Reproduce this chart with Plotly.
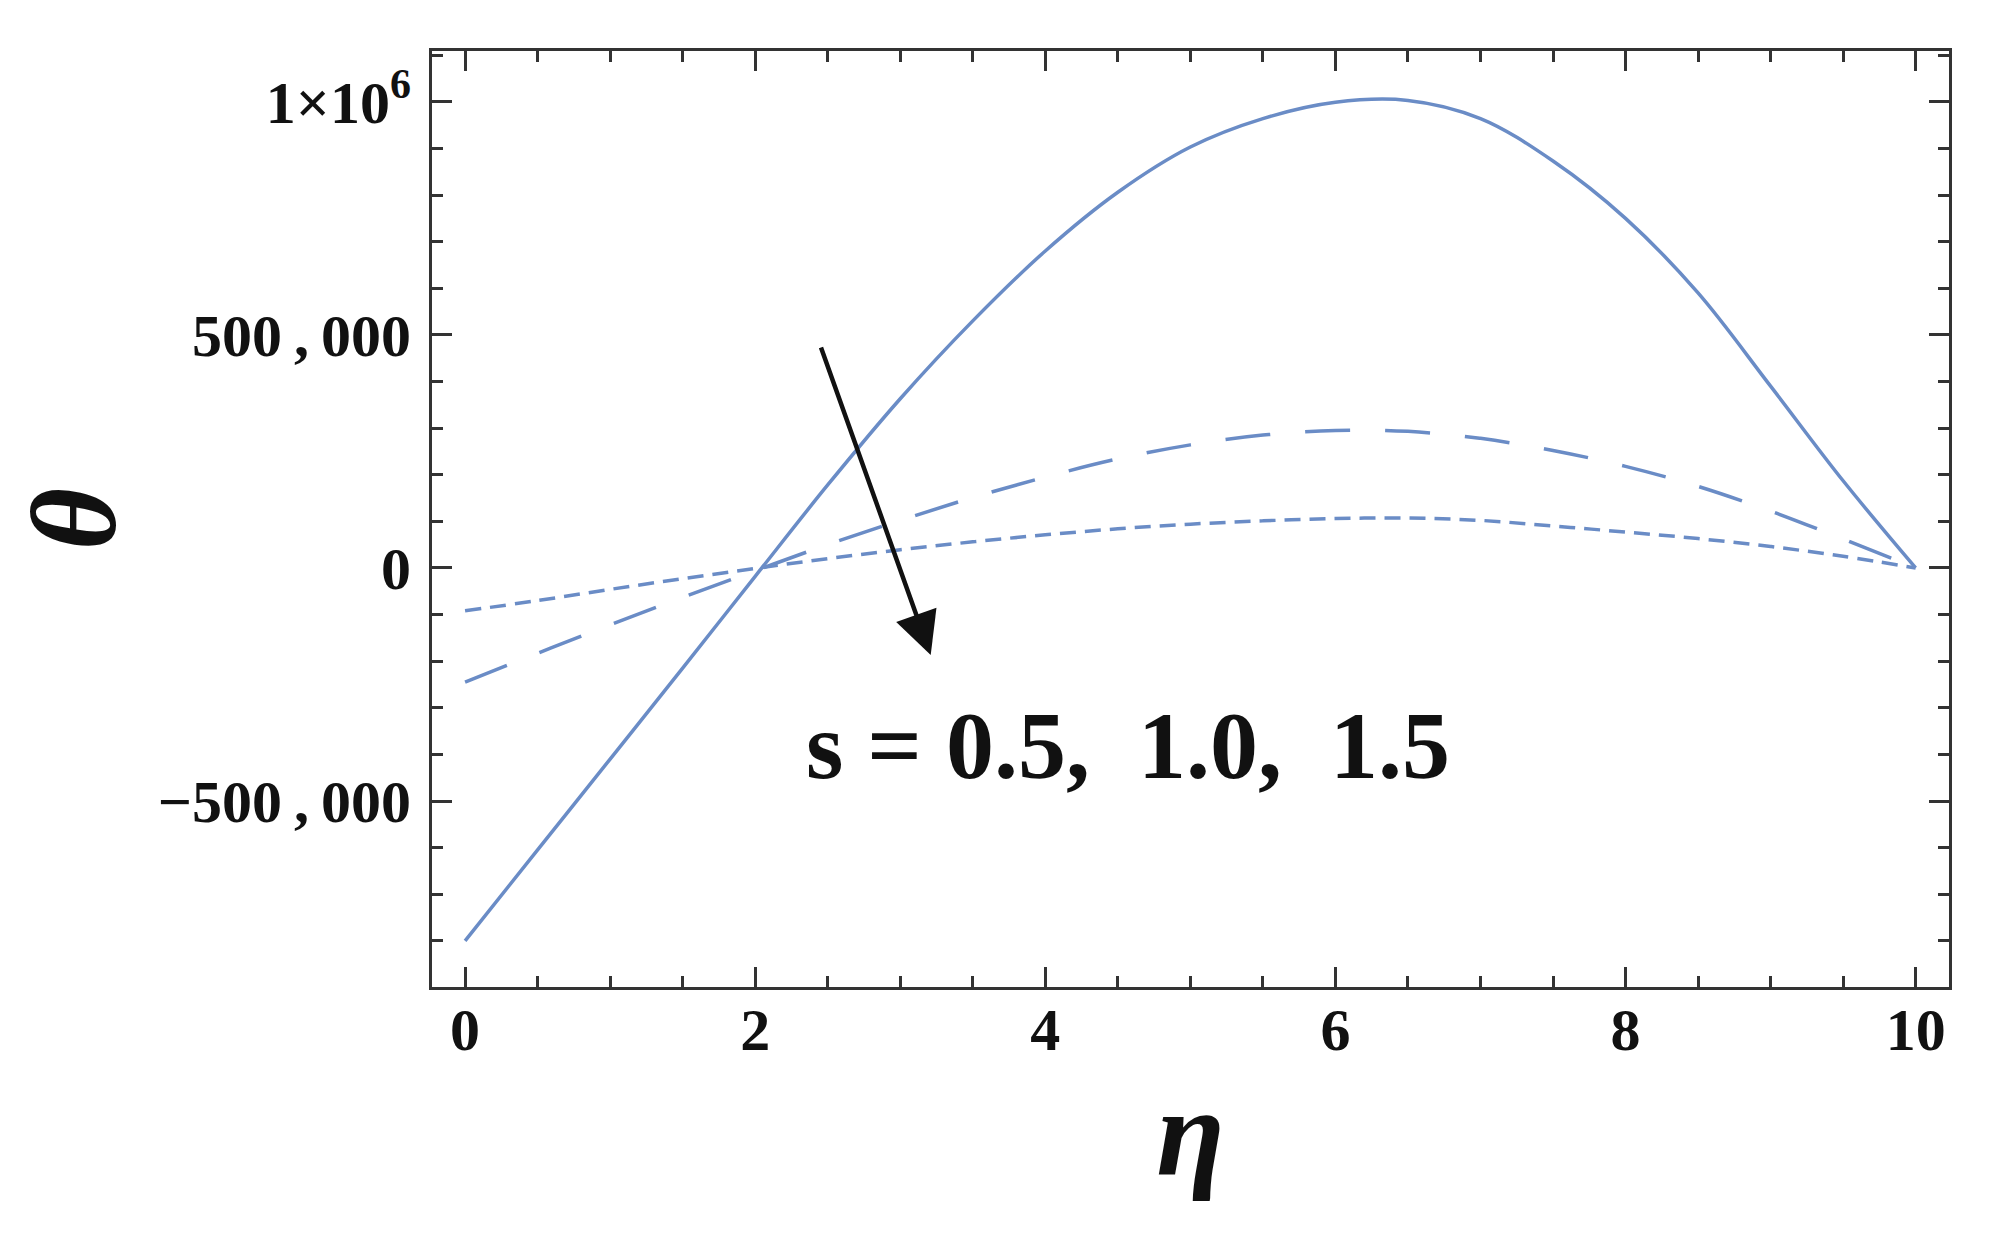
import plotly.graph_objects as go

# eta values and the three theta profiles
eta = [0, 0.5, 1, 1.5, 2, 2.5, 3, 3.5, 4, 4.5, 5, 5.5, 6, 6.5, 7, 7.5, 8, 8.5, 9, 9.5, 10]
theta_s05 = [-800000, -605000, -410000, -215000, -18000, 178000, 363000, 530000, 680000, 806000,
             903000, 964000, 999000, 1003000, 964000, 873000, 750000, 590000, 390000, 187000, 0]
theta_s10 = [-245000, -183000, -122000, -63000, -6000, 50000, 102000, 151000, 195000, 234000,
             264000, 285000, 295000, 293000, 278000, 252000, 218000, 175000, 122000, 62000, 0]
theta_s15 = [-92000, -70000, -46000, -23000, -1000, 20000, 39000, 56000, 71000, 84000,
             94000, 101000, 106000, 107000, 102000, 90000, 77000, 63000, 46000, 25000, 0]

x_ticks = [0, 2, 4, 6, 8, 10]
y_ticks = [-500000, 0, 500000, 1000000]
y_tick_text = ["\u2212500\u2009,\u2009000", "0", "500\u2009,\u2009000", "1\u00d710<sup>6</sup>"]

line_color = "#6a8cc6"
frame_color = "#333333"
font_family = "Liberation Serif, Times New Roman, serif"

fig = go.Figure()
fig.add_trace(go.Scatter(x=eta, y=theta_s05, mode="lines", line_shape="spline",
                         line=dict(color=line_color, width=3.5)))
fig.add_trace(go.Scatter(x=eta, y=theta_s10, mode="lines", line_shape="spline",
                         line=dict(color=line_color, width=3.5, dash="45px,35px")))
fig.add_trace(go.Scatter(x=eta, y=theta_s15, mode="lines", line_shape="spline",
                         line=dict(color=line_color, width=3.5, dash="16px,9px")))

# arrow showing the direction of increasing s
fig.add_annotation(x=3.21, y=-187000, ax=2.45, ay=476000, xref="x", yref="y",
                   axref="x", ayref="y", text="", showarrow=True,
                   arrowhead=2, arrowsize=1.9, arrowwidth=4.5, arrowcolor="#111111")
fig.add_annotation(x=4.57, y=-380000, xref="x", yref="y", showarrow=False,
                   text="s\u00a0=\u00a00.5,\u00a0\u00a01.0,\u00a0\u00a01.5",
                   font=dict(family=font_family, size=96, color="#111111", weight="bold"))

axis_common = dict(showline=True, linecolor=frame_color, linewidth=3, mirror="allticks",
                   ticks="inside", ticklen=20, tickwidth=2.5, tickcolor=frame_color,
                   showgrid=False, zeroline=False,
                   tickfont=dict(family=font_family, size=60, color="#111111", weight="bold"))

fig.update_xaxes(range=[-0.228, 10.23], tickvals=x_ticks, ticklabelstandoff=-12,
                 minor=dict(dtick=0.5, ticks="inside", ticklen=11, tickwidth=2.5,
                            tickcolor=frame_color, showgrid=False),
                 title=dict(text="<i>\u03b7</i>", standoff=25,
                            font=dict(family=font_family, size=125, color="#111111", weight="bold")),
                 **axis_common)
fig.update_yaxes(range=[-899000, 1109000], tickvals=y_ticks, ticktext=y_tick_text,
                 ticklabelstandoff=6,
                 minor=dict(dtick=100000, ticks="inside", ticklen=11, tickwidth=2.5,
                            tickcolor=frame_color, showgrid=False),
                 title=dict(text="<i>\u03b8</i>", standoff=20,
                            font=dict(family=font_family, size=120, color="#111111", weight="bold")),
                 **axis_common)

fig.update_layout(width=1990, height=1235, showlegend=False,
                  paper_bgcolor="white", plot_bgcolor="white",
                  margin=dict(l=424, r=49, t=43, b=256))

fig.write_html("out.html")
